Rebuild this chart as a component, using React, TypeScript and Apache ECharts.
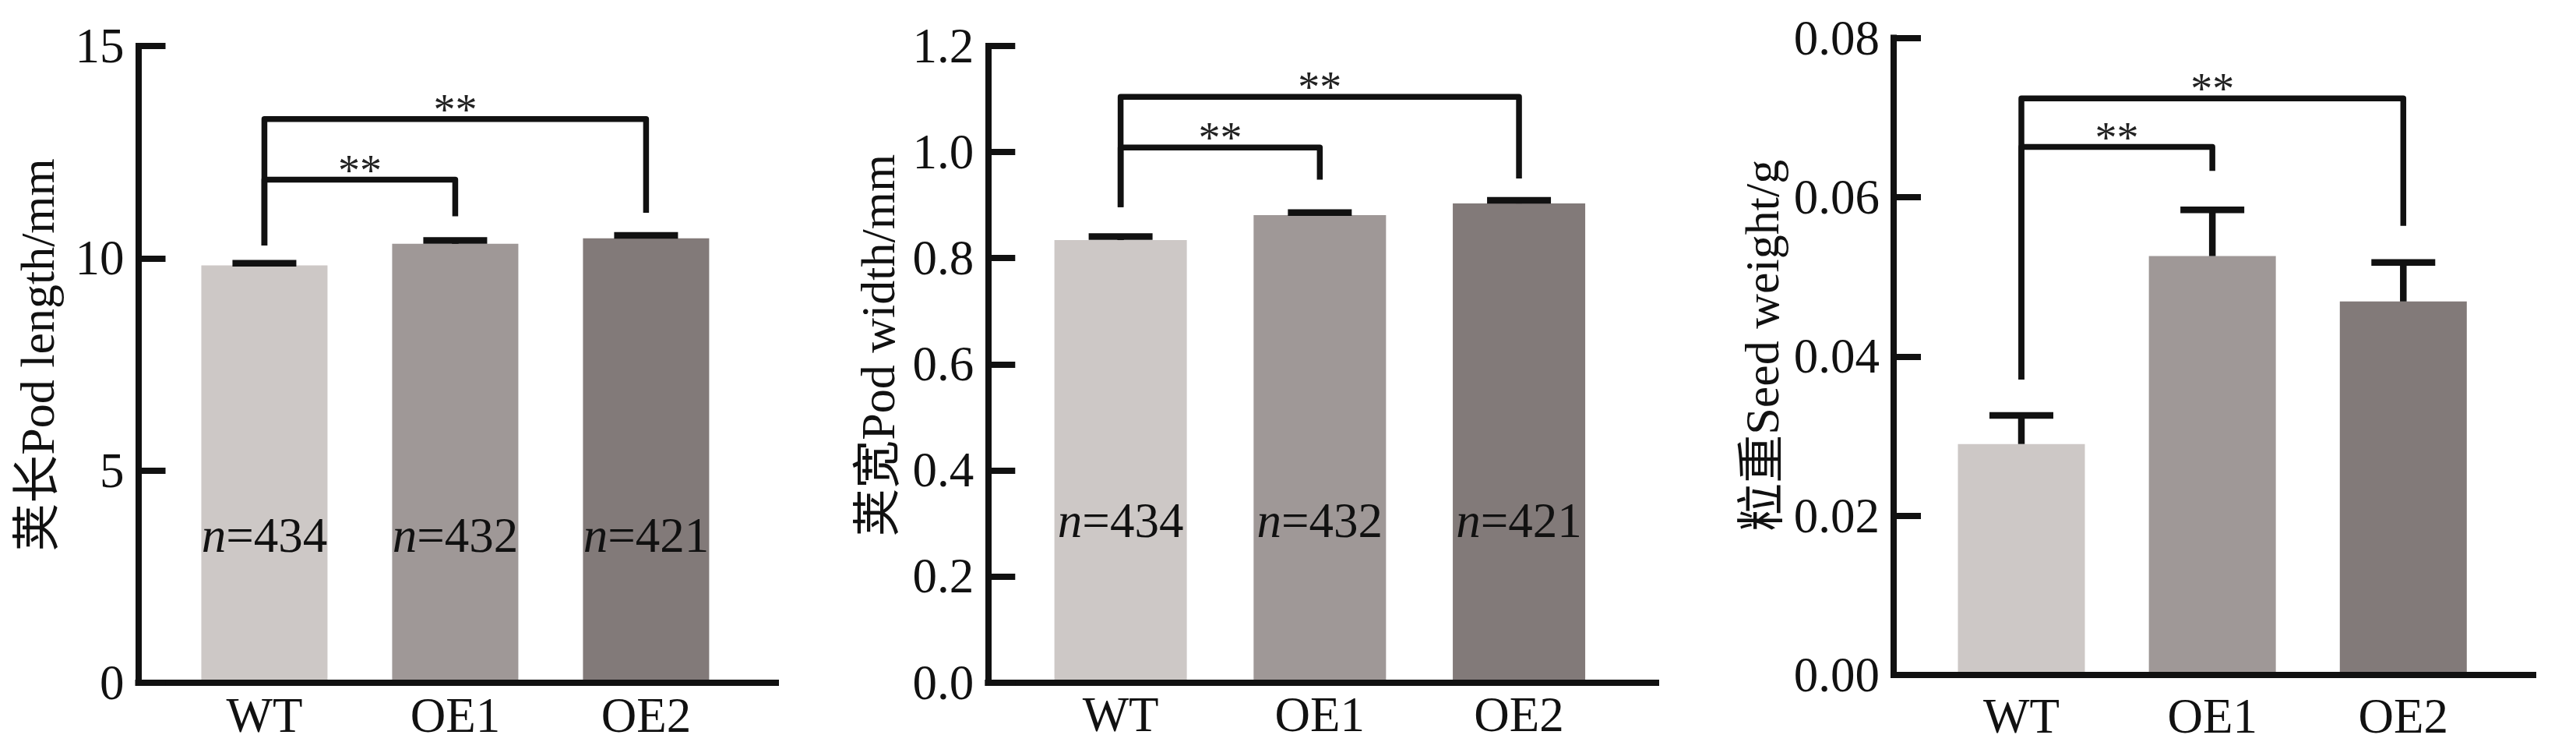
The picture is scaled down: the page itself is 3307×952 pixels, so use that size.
import React, { useEffect, useRef } from 'react';
import * as echarts from 'echarts';

// ---------------- data ----------------
const categories = ['WT', 'OE1', 'OE2'];
const barColors = ['#cdc8c6', '#9f9897', '#827a79'];

const podLength = [9.83, 10.34, 10.47];
const podLengthSE = [0.05, 0.08, 0.07];
const podWidth = [0.834, 0.881, 0.903];
const podWidthSE = [0.0065, 0.005, 0.006];
const seedWeight = [0.029, 0.0526, 0.0469];
const seedWeightSE = [0.0036, 0.0058, 0.0049];

const sampleSizes = [434, 432, 421];
const lengthNLabelY = 3.47;
const widthNLabelY = 0.3055;

// significance brackets: [fromIndex, toIndex, startValue, topValue, endValue]
const lengthBrackets = [
  [0, 1, 10.3, 11.85, 10.99],
  [0, 2, 10.3, 13.28, 11.07],
];
const widthBrackets = [
  [0, 1, 0.896, 1.0085, 0.948],
  [0, 2, 0.896, 1.104, 0.95],
];
const weightBrackets = [
  [0, 1, 0.0371, 0.0663, 0.0633],
  [0, 2, 0.0371, 0.0724, 0.0564],
];

const yTicks1 = { min: 0, max: 15, interval: 5, digits: 0 };
const yTicks2 = { min: 0, max: 1.2, interval: 0.2, digits: 1 };
const yTicks3 = { min: 0, max: 0.08, interval: 0.02, digits: 2 };

const yNames = ['荚长Pod length/mm', '荚宽Pod width/mm', '粒重Seed weight/g'];

// ---------------- styles ----------------
const FONT = '"Liberation Serif", "Times New Roman", "Noto Sans CJK SC", serif';
const INK = '#111111';

const panels = [
  {
    means: podLength, se: podLengthSE, brackets: lengthBrackets, ticks: yTicks1, name: yNames[0],
    nY: lengthNLabelY,
    grid: { left: 177.5, top: 59, width: 818.5, height: 817 },
    xRange: [-0.661, 2.68], barWidth: 162, nameGap: 99, namePad: 24, xLabelMargin: 10,
  },
  {
    means: podWidth, se: podWidthSE, brackets: widthBrackets, ticks: yTicks2, name: yNames[1],
    nY: widthNLabelY,
    grid: { left: 1268.3, top: 59, width: 857.7, height: 816.5 },
    xRange: [-0.666, 2.688], barWidth: 170, nameGap: 110, namePad: 48, xLabelMargin: 10,
  },
  {
    means: seedWeight, se: seedWeightSE, brackets: weightBrackets, ticks: yTicks3, name: yNames[2],
    nY: null,
    grid: { left: 2431, top: 48.6, width: 821, height: 817.4 },
    xRange: [-0.669, 2.68], barWidth: 163, nameGap: 138, namePad: 28, xLabelMargin: 21,
  },
];

function buildOption() {
  const grid: any[] = [];
  const xAxis: any[] = [];
  const yAxis: any[] = [];
  const series: any[] = [];

  panels.forEach((p, i) => {
    grid.push({ ...p.grid, containLabel: false });
    xAxis.push({
      type: 'value',
      gridIndex: i,
      min: p.xRange[0],
      max: p.xRange[1],
      z: 10,
      splitLine: { show: false },
      axisTick: { show: false },
      axisLine: { show: true, onZero: false, lineStyle: { color: INK, width: 8, cap: 'square' } },
      axisLabel: {
        show: true,
        margin: p.xLabelMargin,
        color: INK,
        fontFamily: FONT,
        fontSize: 63,
        showMinLabel: false,
        showMaxLabel: false,
        formatter: (v: number) => {
          const r = Math.round(v);
          if (Math.abs(v - r) > 1e-6) return '';
          return categories[r] ?? '';
        },
      },
    });
    yAxis.push({
      type: 'value',
      gridIndex: i,
      min: p.ticks.min,
      max: p.ticks.max,
      interval: p.ticks.interval,
      z: 10,
      splitLine: { show: false },
      axisLine: { show: true, onZero: false, lineStyle: { color: INK, width: 8, cap: 'square' } },
      axisTick: { show: true, inside: true, length: 35, lineStyle: { color: INK, width: 8 } },
      axisLabel: {
        margin: 18,
        color: INK,
        fontFamily: FONT,
        fontSize: 63,
        formatter: (v: number) => v.toFixed(p.ticks.digits),
      },
      name: p.name,
      nameLocation: 'middle',
      nameRotate: 90,
      nameGap: p.nameGap,
      nameTextStyle: {
        color: INK,
        fontFamily: FONT,
        fontSize: 62,
        padding: [0, 0, 0, p.namePad],
      },
    });

    series.push({
      type: 'bar',
      xAxisIndex: i,
      yAxisIndex: i,
      barWidth: p.barWidth,
      z: 2,
      data: p.means.map((m, k) => ({ value: [k, m], itemStyle: { color: barColors[k] } })),
    });

    series.push({
      type: 'custom',
      xAxisIndex: i,
      yAxisIndex: i,
      z: 5,
      clip: false,
      data: p.means.map((m, k) => [k, m, p.se[k]]),
      encode: { x: 0, y: 1 },
      renderItem: (_params: any, api: any) => {
        const x = api.value(0);
        const m = api.value(1);
        const s = api.value(2);
        const a = api.coord([x, m]);
        const b = api.coord([x, m + s]);
        return {
          type: 'group',
          children: [
            { type: 'line', shape: { x1: a[0], y1: a[1], x2: b[0], y2: b[1] }, style: { stroke: INK, lineWidth: 8.5 } },
            { type: 'line', shape: { x1: b[0] - 41, y1: b[1], x2: b[0] + 41, y2: b[1] }, style: { stroke: INK, lineWidth: 8.5 } },
          ],
        };
      },
    });

    series.push({
      type: 'custom',
      xAxisIndex: i,
      yAxisIndex: i,
      z: 6,
      clip: false,
      data: p.brackets,
      encode: { x: [0, 1], y: [2, 3, 4] },
      renderItem: (_params: any, api: any) => {
        const x1 = api.value(0);
        const x2 = api.value(1);
        const a = api.coord([x1, api.value(2)]);
        const b = api.coord([x1, api.value(3)]);
        const c = api.coord([x2, api.value(3)]);
        const d = api.coord([x2, api.value(4)]);
        return {
          type: 'group',
          children: [
            {
              type: 'polyline',
              shape: { points: [a, b, c, d] },
              style: { stroke: INK, lineWidth: 7.5, fill: null, lineJoin: 'round' },
            },
            {
              type: 'text',
              x: (b[0] + c[0]) / 2,
              y: b[1] - 12,
              style: {
                text: '**',
                fill: '#222222',
                fontFamily: FONT,
                fontSize: 56,
                align: 'center',
                verticalAlign: 'middle',
              },
            },
          ],
        };
      },
    });

    if (p.nY !== null) {
      series.push({
        type: 'custom',
        xAxisIndex: i,
        yAxisIndex: i,
        z: 7,
        clip: false,
        data: sampleSizes.map((n, k) => [k, p.nY, n]),
        encode: { x: 0, y: 1 },
        renderItem: (_params: any, api: any) => {
          const pt = api.coord([api.value(0), api.value(1)]);
          return {
            type: 'text',
            x: pt[0],
            y: pt[1],
            style: {
              text: '{i|n}=' + api.value(2),
              fill: INK,
              fontFamily: FONT,
              fontSize: 63,
              align: 'center',
              verticalAlign: 'middle',
              rich: {
                i: { fontStyle: 'italic', fontFamily: FONT, fontSize: 63, fill: INK },
              },
            },
          };
        },
      });
    }
  });

  return {
    animation: false,
    backgroundColor: '#ffffff',
    grid,
    xAxis,
    yAxis,
    series,
  };
}

export default function App() {
  const ref = useRef<HTMLDivElement>(null);
  useEffect(() => {
    document.body.style.margin = '0';
    document.body.style.overflow = 'hidden';
    if (!ref.current) return;
    const chart = echarts.init(ref.current, undefined, { renderer: 'svg' });
    chart.setOption(buildOption() as any);
    return () => chart.dispose();
  }, []);
  return <div ref={ref} style={{ width: 3307, height: 952, background: '#fff' }} />;
}
